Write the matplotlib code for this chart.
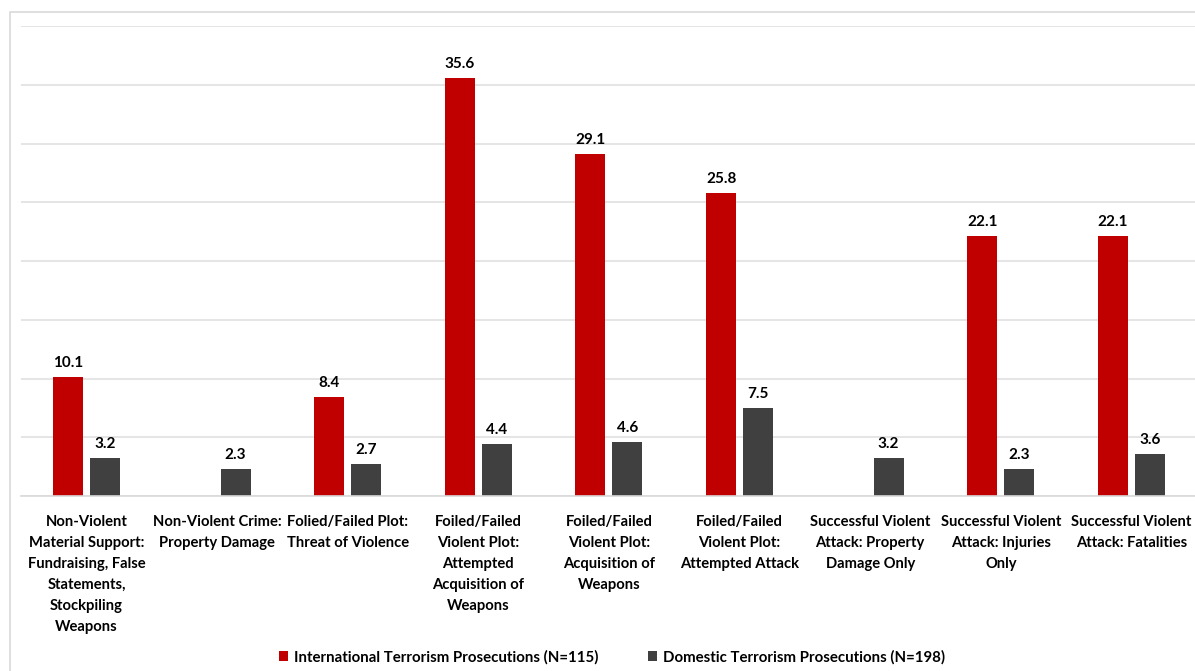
import matplotlib
matplotlib.use("Agg")
import matplotlib.pyplot as plt
from matplotlib.patches import Rectangle
import numpy as np

categories = [
    "Non-Violent\nMaterial Support:\nFundraising, False\nStatements,\nStockpiling\nWeapons",
    "Non-Violent Crime:\nProperty Damage",
    "Folied/Failed Plot:\nThreat of Violence",
    "Foiled/Failed\nViolent Plot:\nAttempted\nAcquisition of\nWeapons",
    "Foiled/Failed\nViolent Plot:\nAcquisition of\nWeapons",
    "Foiled/Failed\nViolent Plot:\nAttempted Attack",
    "Successful Violent\nAttack: Property\nDamage Only",
    "Successful Violent\nAttack: Injuries\nOnly",
    "Successful Violent\nAttack: Fatalities",
]
international = [10.1, None, 8.4, 35.6, 29.1, 25.8, None, 22.1, 22.1]
domestic = [3.2, 2.3, 2.7, 4.4, 4.6, 7.5, 3.2, 2.3, 3.6]
series_names = ["International Terrorism Prosecutions (N=115)",
                "Domestic Terrorism Prosecutions (N=198)"]

RED = "#C00000"
GRAY = "#404040"
FONT = "Lato"

W, H = 1195, 671
fig = plt.figure(figsize=(W / 100, H / 100), dpi=100)

# light frame around the chart area
fig.patches.append(Rectangle((10 / W, -0.1), 1.2, (H - 12) / H + 0.1,
                             transform=fig.transFigure, fill=False,
                             edgecolor="#d9d9d9", linewidth=1.2))

ax = fig.add_axes([21.2 / W, (H - 496) / H, 1175.5 / W, (496 - 26) / H])

x = np.arange(len(categories))
bw = 0.23
off = 0.1415

intl_vals = [v if v is not None else 0 for v in international]
b1 = ax.bar(x - off, intl_vals, bw, color=RED, label=series_names[0])
b2 = ax.bar(x + off, domestic, bw, color=GRAY, label=series_names[1])

for xi, v in zip(x, international):
    if v is not None:
        ax.annotate(f"{v}", (xi - off, v), xytext=(0, 5), textcoords="offset points",
                    ha="center", va="bottom", fontsize=11, fontweight="bold",
                    family=FONT)
for xi, v in zip(x, domestic):
    ax.annotate(f"{v}", (xi + off, v), xytext=(0, 5), textcoords="offset points",
                ha="center", va="bottom", fontsize=11, fontweight="bold",
                family=FONT)

ax.set_xlim(-0.5, len(categories) - 0.5)
ax.set_ylim(0, 40)
ax.set_yticks(np.arange(0, 41, 5))
ax.set_yticklabels([])
ax.tick_params(axis="y", length=0)
ax.grid(axis="y", color="#e0e0e0", linewidth=1.2)
ax.set_axisbelow(True)
for s in ["top", "right", "left"]:
    ax.spines[s].set_visible(False)
ax.spines["bottom"].set_color("#d9d9d9")
ax.spines["bottom"].set_linewidth(1.2)

ax.set_xticks(x)
ax.set_xticklabels(categories, fontsize=10.6, fontweight="bold", family=FONT,
                   linespacing=1.64)
ax.tick_params(axis="x", length=0, pad=13.5)

fig.legend(handles=[b1, b2], loc="center", bbox_to_anchor=(0.512, (H - 657) / H),
           ncol=2, frameon=False, handlelength=0.6, handleheight=0.6,
           handletextpad=0.4, columnspacing=3.3,
           prop={"family": FONT, "size": 10.8, "weight": "bold"})

fig.savefig("out.png", dpi=100, facecolor="white")
